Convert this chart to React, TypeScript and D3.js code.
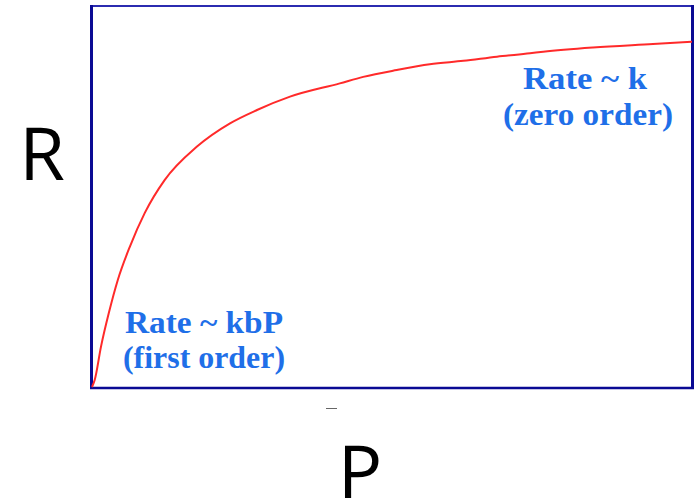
import React from "react";
import * as d3 from "d3";

// Curve points: pressure P (arbitrary units) and rate R (% of max)
const pressure = [0, 0.045, 0.15, 0.28, 0.43, 0.63, 0.88, 1.21, 1.75, 2.3, 2.75, 3.3, 4.13, 4.52, 5.08, 5.63, 6.19, 6.75, 7.3, 7.52, 8.35, 9.35, 10];
const rate = [0, 1.84, 10.6, 19.4, 28.1, 36.8, 45.7, 54.3, 63.1, 69.2, 72.7, 76.2, 79.7, 81.4, 83.2, 84.7, 85.6, 86.7, 87.6, 88.0, 89.1, 90.0, 90.6];

const xDomain = [0, 10];
const yDomain = [0, 100];

const firstOrderLines = ["Rate ~ kbP", "(first order)"];
const zeroOrderLines = ["Rate ~ k", "(zero order)"];
const xLabel = "P";
const yLabel = "R";

export default function App() {
  const W = 697, H = 501;
  const x = d3.scaleLinear().domain(xDomain).range([92, 692]);
  const y = d3.scaleLinear().domain(yDomain).range([387, 6]);
  const pts: [number, number][] = pressure.map((p, i) => [p, rate[i]]);
  const line = d3
    .line<[number, number]>()
    .x((d) => x(d[0]))
    .y((d) => y(d[1]))
    .curve(d3.curveMonotoneX);

  const frame = "#0a0a94";
  const blue = "#1f6fe8";
  const textStyle: React.CSSProperties = {
    fontFamily: "'Liberation Serif', 'Times New Roman', serif",
    fontWeight: 700,
    fontSize: 31,
  };

  return (
    <svg width={W} height={H} style={{ position: "absolute", left: 0, top: 0 }}>
      <rect x={0} y={0} width={W} height={H} fill="#fff" />
      {/* frame */}
      <line x1={90} x2={694} y1={6} y2={6} stroke="#2b2bb0" strokeWidth={2} />
      <line x1={90} x2={694} y1={388} y2={388} stroke={frame} strokeWidth={2.5} />
      <line x1={91.5} x2={91.5} y1={5} y2={389} stroke={frame} strokeWidth={3} />
      <line x1={692.5} x2={692.5} y1={5} y2={389} stroke={frame} strokeWidth={3} />
      {/* curve */}
      <path d={line(pts) || ""} fill="none" stroke="#ff2a2a" strokeWidth={2} />
      {/* annotations */}
      <g style={textStyle} fill={blue}>
        <text x={125} y={333} textLength={158} lengthAdjust="spacingAndGlyphs">{firstOrderLines[0]}</text>
        <text x={123} y={368} textLength={162} lengthAdjust="spacingAndGlyphs">{firstOrderLines[1]}</text>
        <text x={523} y={89} textLength={124} lengthAdjust="spacingAndGlyphs">{zeroOrderLines[0]}</text>
        <text x={503} y={125} textLength={170} lengthAdjust="spacingAndGlyphs">{zeroOrderLines[1]}</text>
      </g>
      {/* small tick */}
      <line x1={326} x2={337} y1={408.5} y2={408.5} stroke="#666" strokeWidth={1} />
      {/* axis labels */}
      <text x={42} y={180} textAnchor="middle" fontFamily="'Open Sans', 'Noto Sans', sans-serif" fontSize={74} fill="#000">
        {yLabel}
      </text>
      <text x={360} y={498} textAnchor="middle" fontFamily="'Open Sans', 'Noto Sans', sans-serif" fontSize={74} fill="#000">
        {xLabel}
      </text>
    </svg>
  );
}
